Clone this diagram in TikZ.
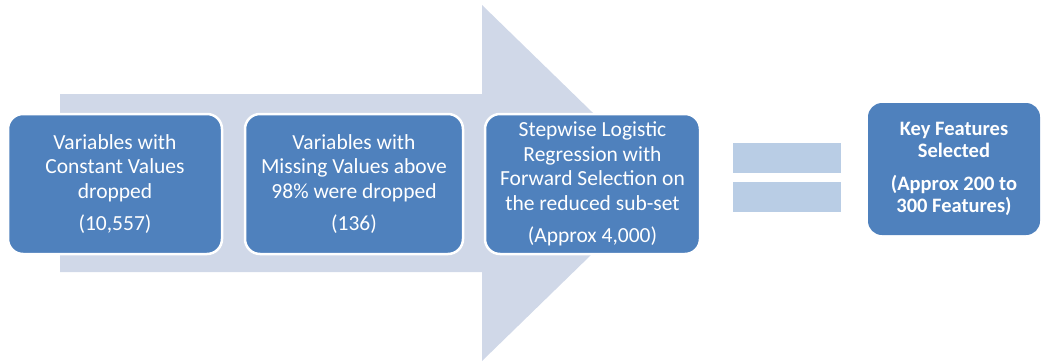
\documentclass[tikz,border=0pt]{standalone}
\usepackage{fontspec}
\setmainfont{Carlito}
\definecolor{boxblue}{RGB}{79,129,189}
\definecolor{arrowgrey}{RGB}{208,216,232}
\definecolor{barblue}{RGB}{185,205,229}
\tikzset{
  stagebox/.style={rectangle, rounded corners=15pt, fill=boxblue, draw=white,
    line width=2.5pt, text=white, align=center, inner sep=0pt,
    font=\fontsize{21.5}{24.5}\selectfont},
  resultbox/.style={rectangle, rounded corners=14pt, fill=boxblue, draw=none,
    text=white, align=center, inner sep=0pt,
    font=\bfseries\fontsize{20.5}{22.5}\selectfont},
  eqbar/.style={rectangle, fill=barblue, draw=none, inner sep=0pt,
    minimum width=108pt, minimum height=30pt}
}
\begin{document}
\begin{tikzpicture}[x=1pt,y=-1pt]
\useasboundingbox (0,0) rectangle (1042,362);
% large background block arrow
\fill[arrowgrey] (60,94) -- (482,94) -- (482,5) -- (665,183) -- (482,361)
  -- (482,272) -- (60,272) -- cycle;
% process stages
\node[stagebox, minimum width=214pt, minimum height=140pt] (constant) at (115,184)
  {Variables with\\Constant Values\\dropped\\[8pt](10,557)};
\node[stagebox, minimum width=218pt, minimum height=140pt] (missing) at (354,184)
  {Variables with\\Missing Values above\\98\% were dropped\\[8pt](136)};
\node[stagebox, minimum width=215pt, minimum height=140pt] (stepwise) at (592.5,184)
  {Stepwise Logistic\\Regression with\\Forward Selection on\\the reduced sub-set\\[8pt](Approx 4,000)};
% equals sign
\node[eqbar] (eqtop) at (787,158) {};
\node[eqbar] (eqbottom) at (787,196.5) {};
% outcome
\node[resultbox, minimum width=172pt, minimum height=132pt] (result) at (954,169)
  {Key Features\\Selected\\[10pt](Approx 200 to\\300 Features)};
\end{tikzpicture}
\end{document}
